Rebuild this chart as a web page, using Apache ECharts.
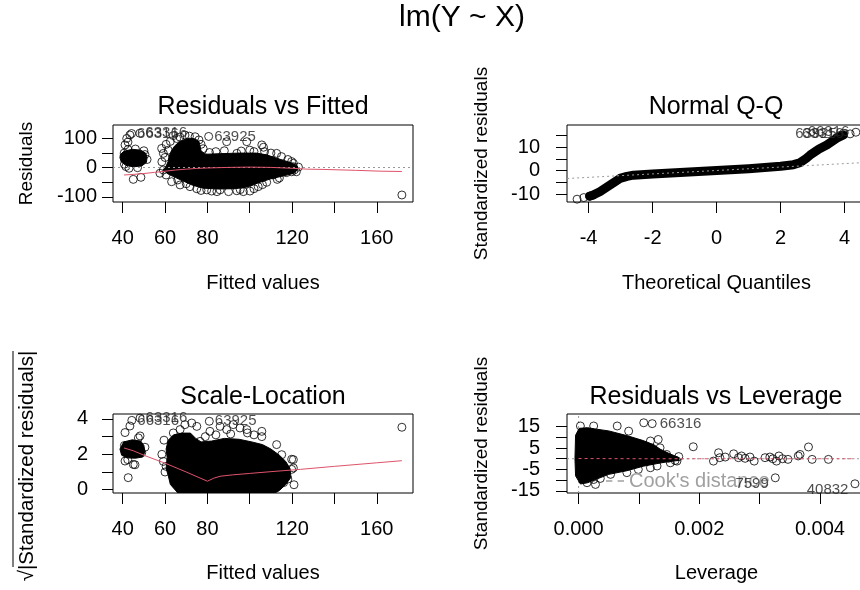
<!DOCTYPE html>
<html><head><meta charset="utf-8">
<script src="https://cdn.jsdelivr.net/npm/echarts@6/dist/echarts.min.js"></script>
<style>html,body{margin:0;padding:0;background:#fff}#c{width:860px;height:590px}</style>
</head><body><div id="c"></div>
<script>
// ===== Residuals vs Fitted =====
const rvfTicksX = [40, 60, 80, 100, 120, 140, 160];
const rvfLabelsX = [40, 60, 80, 120, 160];
const rvfTicksY = [-100, -50, 0, 50, 100];
const rvfLabelsY = [-100, 0, 100];
const rvfBlobA = [[38.7,34],[39.3,20],[41.5,8],[45,3],[49,6],[51.2,18],[51.5,35],[50.8,50],[48.5,60],[44.5,63],[40.5,56],[38.9,45]];
const rvfBlobC = [[59,-8],[60.5,5],[61.5,22],[62,40],[63,58],[64.5,74],[66.5,87],[69,96],[71.5,101],[74,99],[76,90],[76.5,74],[77,58],[79,46],[86,48],[95,50],[103,50],[108,44],[112,34],[116,25],[120,16],[122.5,5],[122.5,-8],[120.5,-20],[116,-28],[110,-38],[104,-52],[99,-66],[93,-72],[85,-73],[78,-70],[73,-60],[69,-47],[65,-34],[61.5,-22]];
const rvfPoints = [[41.1,78],[41.9,100],[43.4,112],[42.5,88],[45,-40],[48.6,-33],[40.8,12],[41.5,4],[43,-2],[47,0],[50.5,45],[51.5,28],[50,58],[46,64],[40.7,50],[42.5,62],
  [58.4,66],[59.2,49],[60.5,80],[61.5,60],[63.9,110],[69.4,112],[74.2,106],[71.5,108],[76,95],[77,80],[78,65],[60,35],[58.5,20],[62.5,90],[65.5,100],[67,105],
  [89.1,89],[98.6,89],[105.7,78],[106.5,70],[93.9,49],[84,55],[88,58],[100,60],[110,50],[112.7,49],[102,55],[81,52],[96,57],[107,55],[115,38],
  [63.1,-48],[67.1,-59],[71.8,-65],[79.7,-76],[86,-76],[93.9,-79],[97,-82],[100.1,-80],[57.6,-19],[59.2,-8],[60.5,-25],[75,-72],[82,-80],[90,-82],[104,-65],[108,-50],[111.1,-25],[117.3,-17],
  [77,-78],[84.5,-82],[95.5,-75],[102,-72],[106,-58],[70,-55],[66,-42],[113,-40],
  [119.8,21],[120.6,3],[119.8,-14],[120.6,15],[121,-8],[118,28],[114,-35],[122,-14],[123,2],
  [171.85,-93.5]];
const rvfLabeled = [[44.2,117,'66316'],[48.1,118,'63316'],[80.6,107,'63925']];
const rvfSmooth = [[40.65,-25],[45,-23],[50,-20],[55,-16],[60,-12],[65,-8],[70,-5],[75,-2.5],[80,-1],[90,1],[100,2],[110,1],[120,-2],[127,-5],[135,-6],[150,-9],[162,-12],[171.85,-13]];

// ===== Normal Q-Q =====
const qqTicksX = [-4, -2, 0, 2, 4];
const qqTicksY = [-10, -5, 0, 5, 10, 15];
const qqLabelsY = [-10, 0, 10];
const qqBand = [[-3.97,-10.9],[-3.86,-10.4],[-3.65,-9.0],[-3.33,-6.1],[-3.02,-3.3],[-2.8,-2.4],[-2.6,-1.9],[-2,-1.4],[-1,-0.6],[0,0.1],[1,0.9],[2,1.9],[2.4,2.6],[2.6,3.4],[2.8,5.3],[2.92,6.7],[3.2,9.3],[3.44,11.0],[3.75,13.9],[3.96,15.3]];
const qqPoints = [[-4.36,-12.2],[-4.15,-11.5],[-3.97,-10.9],[-3.86,-10.5],[3.75,14.2],[3.85,15.0]];
const qqLabeled = [[3.96,16.0,'63925'],[4.17,15.8,'63316'],[4.35,16.5,'66316']];
const qqLine = [[-4.67,-3.33],[4.67,3.55]];

// ===== Scale-Location =====
const slTicksY = [0, 1, 2, 3, 4];
const slLabelsY = [0, 2, 4];
const slBlobA = [[38.7,2.3],[39.5,1.95],[42,1.8],[46,1.78],[49.5,1.85],[50.5,2.15],[50,2.5],[48.5,2.75],[44.5,2.82],[40.5,2.7]];
const slBlobMain = [[60.5,1.2],[61,1.8],[60.5,2.3],[61.5,2.8],[64,3.1],[68,3.2],[72,3.2],[74.5,2.9],[77,2.7],[82,2.75],[88,2.9],[95,2.85],[101,2.7],[106,2.55],[110,2.3],[114,1.95],[117,1.6],[119,1.2],[119.5,0.7],[117,0.3],[114,-0.05],[112,-0.18],[66,-0.18],[62.5,0.3],[61.5,0.8]];
const slPoints = [[41.1,3.23],[43.4,3.6],[42.6,0.68],[41.1,1.62],[45,1.43],[49,2.09],[48.2,3.04],[47.4,2.93],[45.8,1.41],[42.4,1.7],[40.8,2.5],[50.5,2.4],
  [59.2,1.6],[60.5,1.32],[59.5,2.8],[58.5,2.0],[60,1.0],
  [63.9,3.21],[67.1,3.4],[69.4,3.68],[72.6,3.77],[75,3.58],[76.5,2.73],[81.2,3.3],[86,3.58],[89.1,3.4],[92.2,3.68],[95.4,3.49],[98.6,3.4],[98.9,3.21],[105.7,3.3],[105.7,3.0],[102,3.1],[84,3.1],[79,3.0],[91,3.15],
  [112.7,2.55],[115.1,1.98],[120.6,1.7],[120.6,1.23],[120.9,0.28],[119.8,1.72],[119.8,1.15],[118,0.6],[116,0.4],
  [171.85,3.53]];
const slLabeled = [[44.3,3.92,'66316'],[48.2,4.05,'63316'],[80.9,3.87,'63925']];
const slSmooth = [[40.65,2.36],[45,2.2],[51,1.9],[60,1.5],[70,1.0],[80,0.48],[83,0.65],[86,0.76],[92,0.84],[100,0.92],[110,1.02],[124,1.15],[140,1.32],[160,1.52],[171.85,1.64]];

// ===== Residuals vs Leverage =====
const lvTicksX = [0, 0.001, 0.002, 0.003, 0.004];
const lvLabelsX = [0, 0.002, 0.004];
const lvTicksY = [-15, -10, -5, 0, 5, 10, 15];
const lvLabelsY = [-15, -5, 5, 15];
const lvBlob = [[-0.00006,0],[-0.00005,11],[0.00001,14.2],[0.00015,14.5],[0.0003,13.8],[0.0005,13],[0.0008,10.8],[0.00107,8.5],[0.00125,6.5],[0.00135,4.5],[0.00152,2.2],[0.00166,0.6],[0.00166,-0.8],[0.0015,-1.3],[0.00135,-2],[0.00107,-3.5],[0.0008,-5.6],[0.0005,-7.3],[0.0003,-9.5],[0.00015,-11.2],[0.00003,-11.8],[-0.00005,-8]];
const lvPoints = [[0.00003,15.3],[0.00025,15.3],[0.00064,15.3],[0.00083,12.9],[0.00119,8.3],[0.00132,9.0],[0.00135,5.1],[0.00108,16.8],
  [0.0019,5.6],[0.00146,2.0],[0.00152,-1.9],[0.00163,-1.1],[0.00166,1.0],[0.0016,-0.8],[0.00149,0.2],
  [0.00025,-9.7],[0.00036,-9.2],[0.00014,-11.2],[0.00028,-12],[0.00099,-5],[0.0008,-6.5],[0.00053,-7.3],[0.00119,-4.2],[0.0013,-3.4],
  [0.002235,-1.1],[0.00232,2.8],[0.00234,0.5],[0.00243,0.8],[0.00257,2.3],[0.00265,0.5],[0.0027,1.3],[0.00276,0.2],[0.00284,0.8],[0.00291,-1.1],[0.00309,0.5],[0.00317,0.8],[0.00322,0.0],[0.00328,-1.1],[0.00332,1.3],[0.00338,0.0],[0.00347,-0.3],[0.00364,1.3],[0.00367,2.0],[0.00381,5.5],[0.00387,-0.3],[0.00414,-0.3]];
const lvLabeled = [[0.00122,16.4,'66316'],[0.00326,-8.9,'7599'],[0.00458,-11.7,'40832']];
const lvSmooth = [[0,0.1],[0.001,0],[0.002,0],[0.003,0],[0.004,0],[0.00458,0]];
const lvZeroH = [[-0.000192,0],[0.004763,0]];
const lvZeroV = [[0,-16.0],[0,20.9]];

// ===== chart =====
const FONT = "'Liberation Sans', Arial, Helvetica, sans-serif";
const TICK_FS = 20, NAME_FS = 20;
const grids = [
  {left:113, top:125, width:300, height:77},
  {left:567, top:125, width:299, height:77},
  {left:113, top:414, width:300, height:79},
  {left:567, top:414, width:299, height:79}
].map(g => Object.assign({show:true, borderColor:'#000', borderWidth:1, backgroundColor:'transparent', containLabel:false, outerBoundsMode:'none'}, g));

function xAx(i, min, max, ticks, labels, name, gap, fmt) {
  return {type:'value', gridIndex:i, position:'bottom', min, max, name, nameLocation:'middle', nameGap:gap,
    nameTextStyle:{fontSize:NAME_FS, color:'#000', fontFamily:FONT},
    axisLine:{show:false, onZero:false}, splitLine:{show:false},
    axisTick:{show:true, length:11, lineStyle:{color:'#000', width:1}, customValues:ticks},
    axisLabel:{show:true, customValues:labels, margin:26, fontSize:TICK_FS, color:'#000', fontFamily:FONT, formatter:fmt || (v => String(v))}};
}
function yAx(i, min, max, ticks, labels, name, gap, margin) {
  return {type:'value', gridIndex:i, position:'left', min, max, name, nameLocation:'middle', nameGap:gap,
    nameTextStyle:{fontSize:19, color:'#000', fontFamily:FONT},
    axisLine:{show:false, onZero:false}, splitLine:{show:false},
    axisTick:{show:true, length:11, lineStyle:{color:'#000', width:1}, customValues:ticks},
    axisLabel:{show:true, customValues:labels, margin, fontSize:TICK_FS, color:'#000', fontFamily:FONT, formatter:v => String(v)}};
}
function poly(data, i) {
  return {type:'custom', xAxisIndex:i, yAxisIndex:i, data, clip:true, silent:true, z:2,
    renderItem(params, api) {
      if (params.dataIndex !== 0) return null;
      return {type:'polygon', shape:{points:data.map(d => api.coord(d))}, style:{fill:'#000', stroke:'#000', lineWidth:1}};
    }};
}
const ptStyle = {color:'rgba(0,0,0,0)', borderColor:'#000', borderWidth:1};
function pts(data, i, extra) {
  return Object.assign({type:'scatter', xAxisIndex:i, yAxisIndex:i, data, symbol:'circle', symbolSize:8, itemStyle:ptStyle, silent:true, z:3, clip:true}, extra || {});
}
function labeled(data, i, pos, dist, offset) {
  return pts(data.map(d => ({value:[d[0], d[1]], name:d[2]})), i, {
    label:{show:true, position:pos, distance:dist, offset:offset || [0,0], formatter:'{b}', fontSize:15, color:'#222', fontFamily:FONT}, z:4});
}
function smooth(data, i, dashed) {
  return {type:'line', xAxisIndex:i, yAxisIndex:i, data, symbol:'none', silent:true, z:6, clip:true,
    lineStyle:{color:'#DF536B', width:1, type: dashed ? [3,3] : 'solid'}};
}
function grayLine(data, i, z) {
  return {type:'line', xAxisIndex:i, yAxisIndex:i, data, symbol:'none', silent:true, z:z, clip:true,
    lineStyle:{color:'#999', width:1, type:[2,3]}};
}
function refLine(i, axis, v, z) {
  const d = {}; d[axis] = v;
  return {type:'scatter', xAxisIndex:i, yAxisIndex:i, data:[], silent:true, z:z,
    markLine:{silent:true, symbol:'none', label:{show:false}, animation:false,
      lineStyle:{color:'#999', type:[2,3], width:1}, data:[d]}};
}

const option = {
  animation:false,
  backgroundColor:'#fff',
  textStyle:{fontFamily:FONT},
  title:[
    {text:'lm(Y ~ X)', left:462, top:3, textAlign:'center', padding:0, textStyle:{fontSize:30, fontWeight:'normal', color:'#000', fontFamily:FONT, lineHeight:30}},
    {text:'Residuals vs Fitted', left:263, top:94.5, textAlign:'center', padding:0, textStyle:{fontSize:25, fontWeight:'normal', color:'#000', fontFamily:FONT, lineHeight:25}},
    {text:'Normal Q-Q', left:716, top:94.5, textAlign:'center', padding:0, textStyle:{fontSize:25, fontWeight:'normal', color:'#000', fontFamily:FONT, lineHeight:25}},
    {text:'Scale-Location', left:263, top:384.5, textAlign:'center', padding:0, textStyle:{fontSize:25, fontWeight:'normal', color:'#000', fontFamily:FONT, lineHeight:25}},
    {text:'Residuals vs Leverage', left:716, top:384.5, textAlign:'center', padding:0, textStyle:{fontSize:25, fontWeight:'normal', color:'#000', fontFamily:FONT, lineHeight:25}}
  ],
  legend:{left:606, top:471, itemWidth:18, itemHeight:2, itemGap:0, padding:0, selectedMode:false,
    data:[{name:"Cook's distance", icon:'path://M0,0h6v1.5h-6z M11,0h6v1.5h-6z'}],
    textStyle:{fontSize:20, color:'#A0A0A0', fontFamily:FONT, padding:[0,0,0,0]}},
  grid:grids,
  xAxis:[
    xAx(0, 35.42, 177.1, rvfTicksX, rvfLabelsX, 'Fitted values', 71),
    xAx(1, -4.675, 4.666, qqTicksX, qqTicksX, 'Theoretical Quantiles', 71),
    xAx(2, 35.42, 177.1, rvfTicksX, rvfLabelsX, 'Fitted values', 70),
    xAx(3, -0.000192, 0.004763, lvTicksX, lvLabelsX, 'Leverage', 70, v => v.toFixed(3))
  ],
  yAxis:[
    yAx(0, -117.5, 146.2, rvfTicksY, rvfLabelsY, 'Residuals', 77, 16),
    yAx(1, -13.4, 19.6, qqTicksY, qqLabelsY, 'Standardized residuals', 76, 27),
    yAx(2, -0.187, 4.28, slTicksY, slLabelsY, '', 77, 25),
    yAx(3, -16.0, 20.9, lvTicksY, lvLabelsY, 'Standardized residuals', 76, 27)
  ],
  graphic:[
    {type:'text', x:27, y:466, rotation:Math.PI/2, silent:true,
      style:{text:'√|Standardized residuals|', fontSize:20.5, fontFamily:FONT, fill:'#000', align:'center', verticalAlign:'middle'}},
    {type:'line', silent:true, shape:{x1:13, y1:351, x2:13, y2:567}, style:{stroke:'#000', lineWidth:1}}
  ],
  series:[
    // panel 1
    poly(rvfBlobA, 0), poly(rvfBlobC, 0),
    pts(rvfPoints, 0), labeled(rvfLabeled, 0, 'right', 1),
    refLine(0, 'yAxis', 0, 5),
    smooth(rvfSmooth, 0),
    // panel 2
    {type:'line', xAxisIndex:1, yAxisIndex:1, data:qqBand, symbol:'none', silent:true, z:3,
      lineStyle:{color:'#000', width:9, cap:'round', join:'round'}},
    pts(qqPoints, 1), labeled(qqLabeled, 1, 'left', 2),
    grayLine(qqLine, 1, 5),
    // panel 3
    poly(slBlobA, 2), poly(slBlobMain, 2),
    pts(slPoints, 2), labeled(slLabeled, 2, 'right', 1),
    smooth(slSmooth, 2),
    // panel 4
    grayLine(lvZeroH, 3, 1), grayLine(lvZeroV, 3, 1),
    poly(lvBlob, 3),
    pts(lvPoints, 3),
    labeled(lvLabeled.slice(0,1), 3, 'right', 3),
    labeled(lvLabeled.slice(1), 3, 'left', 2, [0,6]),
    smooth(lvSmooth, 3, true),
    {type:'line', name:"Cook's distance", xAxisIndex:3, yAxisIndex:3, data:[], symbol:'none', silent:true,
      lineStyle:{color:'#A0A0A0', width:1, type:[5,4]}, itemStyle:{color:'#A0A0A0'}}
  ]
};
const chart = echarts.init(document.getElementById('c'));
chart.setOption(option);
</script>
</body></html>
